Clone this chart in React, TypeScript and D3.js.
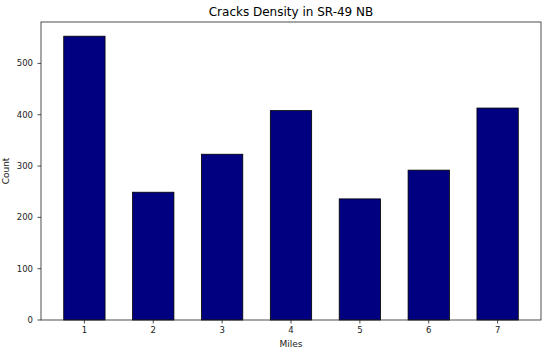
import React from 'react';
import * as d3 from 'd3';

const miles = [1, 2, 3, 4, 5, 6, 7];
const counts = [553, 249, 323, 408, 236, 292, 413];
const yTicks = [0, 100, 200, 300, 400, 500];

const W = 550;
const H = 354;
const margin = { top: 22, right: 9, bottom: 34, left: 41 };

export default function App() {
  const innerW = W - margin.left - margin.right;
  const innerH = H - margin.top - margin.bottom;
  const barW = 0.6;
  const lo = 1 - barW / 2;
  const hi = 7 + barW / 2;
  const pad = (hi - lo) * 0.05;

  const x = d3.scaleLinear().domain([lo - pad, hi + pad]).range([0, innerW]);
  const yMax = d3.max(counts) as number;
  const y = d3.scaleLinear().domain([0, yMax * 1.05]).range([innerH, 0]);

  const font = 'DejaVu Sans, sans-serif';

  return (
    <svg width={W} height={H} style={{ position: 'absolute', left: 0, top: 0, background: '#fff' }}>
      <text x={margin.left + innerW / 2} y={16} textAnchor="middle" fontFamily={font} fontSize={12} fill="#000">
        Cracks Density in SR-49 NB
      </text>
      <g transform={`translate(${margin.left},${margin.top})`}>
        {counts.map((c, i) => (
          <rect
            key={i}
            x={x(miles[i] - barW / 2)}
            y={y(c)}
            width={x(miles[i] + barW / 2) - x(miles[i] - barW / 2)}
            height={innerH - y(c)}
            fill="#000080"
            stroke="#000"
            strokeWidth={0.8}
          />
        ))}
        <rect x={0} y={0} width={innerW} height={innerH} fill="none" stroke="#222" strokeWidth={0.8} />
        {yTicks.map((t) => (
          <g key={t} transform={`translate(0,${y(t)})`}>
            <line x1={-3.5} x2={0} stroke="#222" strokeWidth={0.8} />
            <text x={-8} dy="0.35em" textAnchor="end" fontFamily={font} fontSize={8.5} fill="#222">
              {t}
            </text>
          </g>
        ))}
        {miles.map((m) => (
          <g key={m} transform={`translate(${x(m)},${innerH})`}>
            <line y1={0} y2={3.5} stroke="#222" strokeWidth={0.8} />
            <text y={13} textAnchor="middle" fontFamily={font} fontSize={8.5} fill="#222">
              {m}
            </text>
          </g>
        ))}
        <text x={innerW / 2} y={innerH + 27} textAnchor="middle" fontFamily={font} fontSize={9} fill="#222">
          Miles
        </text>
        <text
          transform={`translate(${-32},${innerH / 2}) rotate(-90)`}
          textAnchor="middle"
          fontFamily={font}
          fontSize={9}
          fill="#222"
        >
          Count
        </text>
      </g>
    </svg>
  );
}
